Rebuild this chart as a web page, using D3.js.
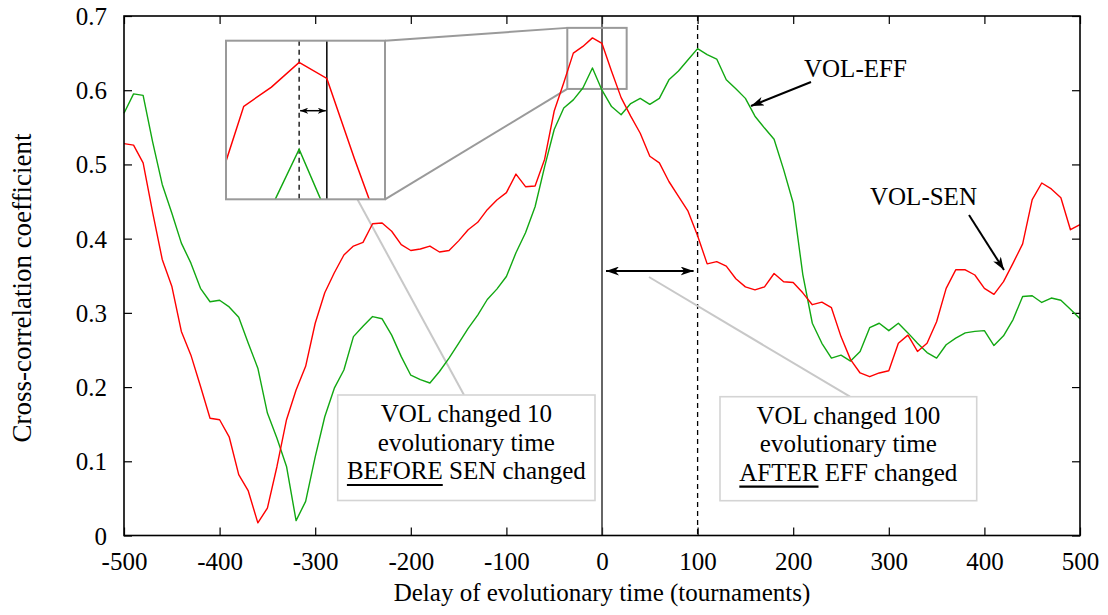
<!DOCTYPE html>
<html>
<head>
<meta charset="utf-8">
<script src="https://cdn.jsdelivr.net/npm/d3@7"></script>
<style>
  body { margin: 0; background: #fff; }
  svg { display: block; }
  text { font-family: "Liberation Serif", "Times New Roman", serif; fill: #000; }
</style>
</head>
<body>
<svg id="chart" width="1108" height="615"></svg>
<script>
// Delay between the two signals (tournaments)
const delays = [
  -500, -490, -480, -470, -460, -450, -440, -430, -420, -410,
  -400, -390, -380, -370, -360, -350, -340, -330, -320, -310,
  -300, -290, -280, -270, -260, -250, -240, -230, -220, -210,
  -200, -190, -180, -170, -160, -150, -140, -130, -120, -110,
  -100,  -90,  -80,  -70,  -60,  -50,  -40,  -30,  -20,  -10,
     0,   10,   20,   30,   40,   50,   60,   70,   80,   90,
   100,  110,  120,  130,  140,  150,  160,  170,  180,  190,
   200,  210,  220,  230,  240,  250,  260,  270,  280,  290,
   300,  310,  320,  330,  340,  350,  360,  370,  380,  390,
   400,  410,  420,  430,  440,  450,  460,  470,  480,  490,
   500
];

// Cross-correlation VOL vs SEN
const volSen = [
  0.528, 0.526, 0.502, 0.435, 0.372, 0.336, 0.275, 0.243, 0.201, 0.158,
  0.156, 0.133, 0.082, 0.060, 0.017, 0.037, 0.093, 0.156, 0.196, 0.228,
  0.286, 0.327, 0.354, 0.378, 0.390, 0.395, 0.420, 0.421, 0.410, 0.392,
  0.384, 0.386, 0.390, 0.382, 0.384, 0.397, 0.412, 0.422, 0.439, 0.452,
  0.462, 0.487, 0.470, 0.471, 0.507, 0.572, 0.610, 0.650, 0.659, 0.6705,
  0.663, 0.6255, 0.590, 0.565, 0.542, 0.511, 0.502, 0.477, 0.457, 0.437,
  0.404, 0.366, 0.369, 0.363, 0.346, 0.335, 0.331, 0.335, 0.353, 0.342,
  0.341, 0.327, 0.311, 0.3145, 0.307, 0.268, 0.237, 0.219, 0.214, 0.219,
  0.222, 0.259, 0.270, 0.248, 0.259, 0.288, 0.333, 0.358, 0.358, 0.351,
  0.333, 0.325, 0.342, 0.367, 0.393, 0.4525, 0.475, 0.467, 0.455, 0.412,
  0.419
];

// Cross-correlation VOL vs EFF
const volEff = [
  0.569, 0.595, 0.593, 0.530, 0.473, 0.4345, 0.394, 0.367, 0.333, 0.315,
  0.317, 0.308, 0.294, 0.259, 0.2255, 0.165, 0.131, 0.093, 0.020, 0.046,
  0.106, 0.160, 0.1985, 0.223, 0.268, 0.282, 0.295, 0.292, 0.270, 0.241,
  0.216, 0.210, 0.2055, 0.221, 0.239, 0.259, 0.279, 0.297, 0.318, 0.332,
  0.349, 0.381, 0.408, 0.443, 0.497, 0.547, 0.576, 0.587, 0.603, 0.630,
  0.600, 0.578, 0.567, 0.582, 0.589, 0.581, 0.589, 0.614, 0.626, 0.641,
  0.656, 0.648, 0.642, 0.614, 0.602, 0.589, 0.565, 0.549, 0.534, 0.493,
  0.448, 0.352, 0.286, 0.259, 0.239, 0.243, 0.235, 0.248, 0.280, 0.286,
  0.276, 0.286, 0.273, 0.259, 0.2465, 0.239, 0.257, 0.266, 0.273, 0.275,
  0.276, 0.256, 0.269, 0.291, 0.322, 0.323, 0.314, 0.320, 0.317, 0.305,
  0.292
];

const xTicks = [-500, -400, -300, -200, -100, 0, 100, 200, 300, 400, 500];
const xTickLabels = ["-500", "-400", "-300", "-200", "-100", "0", "100", "200", "300", "400", "500"];
const yTicks = [0, 0.1, 0.2, 0.3, 0.4, 0.5, 0.6, 0.7];
const yTickLabels = ["0", "0.1", "0.2", "0.3", "0.4", "0.5", "0.6", "0.7"];

// Reference lags marked on the chart
const senLag = -10;   // VOL-SEN peak
const effLag = 100;   // VOL-EFF peak

// Magnified window around the origin
const zoomWindowX = [-36.3, 25.8];
const zoomWindowY = [0.6017, 0.684];
const insetDomainX = [-36.4, 21];
const insetDomainY = [0.6067, 0.6806];

const RED = "#ff0000";
const GREEN = "#12a812";
const FONT = 25;

const svg = d3.select("#chart");
const L = 124, R = 1080, T = 16, B = 535.5;

const x = d3.scaleLinear().domain([-500, 500]).range([L, R]);
const y = d3.scaleLinear().domain([0, 0.7]).range([B, T]);

// Arrowhead markers
const defs = svg.append("defs");
function arrowMarker(id, len, half) {
  defs.append("marker")
    .attr("id", id)
    .attr("markerUnits", "userSpaceOnUse")
    .attr("viewBox", `${-len} ${-half} ${len} ${half * 2}`)
    .attr("refX", 0).attr("refY", 0)
    .attr("markerWidth", len).attr("markerHeight", half * 2)
    .attr("orient", "auto-start-reverse")
    .append("path")
    .attr("d", `M0,0 L${-len},${-half} L${-len * 0.72},0 L${-len},${half} Z`)
    .attr("fill", "#000");
}
arrowMarker("ah", 13, 4.5);
arrowMarker("ahSmall", 8, 3);

// Axes (ticks point inward, mirrored on top and right)
const gx = svg.append("g").attr("transform", `translate(0,${B})`)
  .call(d3.axisBottom(x).tickValues(xTicks).tickSizeInner(-8).tickSizeOuter(0).tickPadding(17)
    .tickFormat((d, i) => xTickLabels[i]));
const gxt = svg.append("g").attr("transform", `translate(0,${T})`)
  .call(d3.axisTop(x).tickValues(xTicks).tickSizeInner(-8).tickSizeOuter(0).tickFormat(""));
const gy = svg.append("g").attr("transform", `translate(${L},0)`)
  .call(d3.axisLeft(y).tickValues(yTicks).tickSizeInner(-8).tickSizeOuter(0).tickPadding(17)
    .tickFormat((d, i) => yTickLabels[i]));
const gyr = svg.append("g").attr("transform", `translate(${R},0)`)
  .call(d3.axisRight(y).tickValues(yTicks).tickSizeInner(-8).tickSizeOuter(0).tickFormat(""));
[gx, gxt, gy, gyr].forEach(g => {
  g.select(".domain").remove();
  g.selectAll(".tick line").attr("stroke", "#000").attr("stroke-width", 1.2);
  g.selectAll(".tick text").style("font-family", '"Liberation Serif", "Times New Roman", serif')
    .style("font-size", FONT + "px").attr("fill", "#000");
});
gy.selectAll(".tick text").attr("dy", "0.34em");

// Axis titles
svg.append("text").attr("x", (L + R) / 2).attr("y", 601).attr("text-anchor", "middle")
  .style("font-size", FONT + "px").text("Delay of evolutionary time (tournaments)");
svg.append("text").attr("transform", "translate(31,288) rotate(-90)").attr("text-anchor", "middle")
  .style("font-size", "27px").text("Cross-correlation coefficient");

// Marker lines at lag 0 and at the VOL-EFF peak
svg.append("line").attr("x1", x(0)).attr("x2", x(0)).attr("y1", T).attr("y2", B)
  .attr("stroke", "#333").attr("stroke-width", 1.5);
svg.append("line").attr("x1", x(effLag)).attr("x2", x(effLag)).attr("y1", T).attr("y2", B)
  .attr("stroke", "#000").attr("stroke-width", 1.3).attr("stroke-dasharray", "5,4");

// Callout leader lines
const calloutGray = "#c8c8c8";
svg.append("line").attr("x1", 313.3).attr("y1", 118.3).attr("x2", 464).attr("y2", 395)
  .attr("stroke", calloutGray).attr("stroke-width", 2);
svg.append("line").attr("x1", 649).attr("y1", 277).attr("x2", 850).attr("y2", 396.7)
  .attr("stroke", calloutGray).attr("stroke-width", 2);

// Inset frame geometry
const inset = { x0: 226, x1: 385, y0: 40.7, y1: 199.3 };
const zw = { x0: x(zoomWindowX[0]), x1: x(zoomWindowX[1]), y0: y(zoomWindowY[1]), y1: y(zoomWindowY[0]) };
const zoomGray = "#9a9a9a";
svg.append("line").attr("x1", inset.x1).attr("y1", inset.y0).attr("x2", zw.x0).attr("y2", zw.y0)
  .attr("stroke", zoomGray).attr("stroke-width", 2);
svg.append("line").attr("x1", inset.x1).attr("y1", inset.y1).attr("x2", zw.x0).attr("y2", zw.y1)
  .attr("stroke", zoomGray).attr("stroke-width", 2);
svg.append("rect").attr("x", zw.x0).attr("y", zw.y0).attr("width", zw.x1 - zw.x0).attr("height", zw.y1 - zw.y0)
  .attr("fill", "none").attr("stroke", zoomGray).attr("stroke-width", 2);

// Series
const mainLine = d3.line().x((d, i) => x(delays[i])).y(d => y(d));
svg.append("path").datum(volEff).attr("d", mainLine).attr("fill", "none")
  .attr("stroke", GREEN).attr("stroke-width", 1.4).attr("stroke-linejoin", "round");
svg.append("path").datum(volSen).attr("d", mainLine).attr("fill", "none")
  .attr("stroke", RED).attr("stroke-width", 1.4).attr("stroke-linejoin", "round");

// Frame
svg.append("rect").attr("x", L).attr("y", T).attr("width", R - L).attr("height", B - T)
  .attr("fill", "none").attr("stroke", "#000").attr("stroke-width", 1.6);

// Magnified inset
const xi = d3.scaleLinear().domain(insetDomainX).range([inset.x0, inset.x1]);
const yi = d3.scaleLinear().domain(insetDomainY).range([inset.y1, inset.y0]);
defs.append("clipPath").attr("id", "insetClip").append("rect")
  .attr("x", inset.x0).attr("y", inset.y0).attr("width", inset.x1 - inset.x0).attr("height", inset.y1 - inset.y0);
svg.append("rect").attr("x", inset.x0).attr("y", inset.y0).attr("width", inset.x1 - inset.x0)
  .attr("height", inset.y1 - inset.y0).attr("fill", "#fff");
const gi = svg.append("g").attr("clip-path", "url(#insetClip)");
const insetLine = d3.line().x((d, i) => xi(delays[i])).y(d => yi(d));
gi.append("line").attr("x1", xi(senLag)).attr("x2", xi(senLag)).attr("y1", inset.y0).attr("y2", inset.y1)
  .attr("stroke", "#000").attr("stroke-width", 1.3).attr("stroke-dasharray", "5,4");
gi.append("line").attr("x1", xi(0)).attr("x2", xi(0)).attr("y1", inset.y0).attr("y2", inset.y1)
  .attr("stroke", "#000").attr("stroke-width", 1.5);
gi.append("path").datum(volEff).attr("d", insetLine).attr("fill", "none")
  .attr("stroke", GREEN).attr("stroke-width", 1.5);
gi.append("path").datum(volSen).attr("d", insetLine).attr("fill", "none")
  .attr("stroke", RED).attr("stroke-width", 1.5);
svg.append("line").attr("x1", xi(senLag) + 1).attr("x2", xi(0) - 1).attr("y1", 110.7).attr("y2", 110.7)
  .attr("stroke", "#000").attr("stroke-width", 1.5)
  .attr("marker-start", "url(#ahSmall)").attr("marker-end", "url(#ahSmall)");
svg.append("rect").attr("x", inset.x0).attr("y", inset.y0).attr("width", inset.x1 - inset.x0)
  .attr("height", inset.y1 - inset.y0).attr("fill", "none").attr("stroke", zoomGray).attr("stroke-width", 2);

// Lag arrow between 0 and the VOL-EFF peak
svg.append("line").attr("x1", x(0) + 4).attr("x2", x(effLag) - 4).attr("y1", 271).attr("y2", 271)
  .attr("stroke", "#000").attr("stroke-width", 2)
  .attr("marker-start", "url(#ah)").attr("marker-end", "url(#ah)");

// Series labels with pointers
svg.append("text").attr("x", 804).attr("y", 77).style("font-size", FONT + "px").text("VOL-EFF");
svg.append("line").attr("x1", 811).attr("y1", 82).attr("x2", 751).attr("y2", 106)
  .attr("stroke", "#000").attr("stroke-width", 2).attr("marker-end", "url(#ah)");
svg.append("text").attr("x", 870).attr("y", 205).style("font-size", FONT + "px").text("VOL-SEN");
svg.append("line").attr("x1", 969).attr("y1", 215).attr("x2", 1004).attr("y2", 270)
  .attr("stroke", "#000").attr("stroke-width", 2).attr("marker-end", "url(#ah)");

// Explanation boxes
function noteBox(x0, y0, x1, y1, lines) {
  svg.append("rect").attr("x", x0).attr("y", y0).attr("width", x1 - x0).attr("height", y1 - y0)
    .attr("fill", "#fff").attr("stroke", "#d4d4d4").attr("stroke-width", 1.6);
  const cx = (x0 + x1) / 2;
  lines.forEach((ln, i) => {
    const t = svg.append("text").attr("x", cx).attr("y", y0 + 27 + i * 28.5)
      .attr("text-anchor", "middle").style("font-size", FONT + "px");
    const first = t.append("tspan").text(ln[0]);
    if (ln[1] !== undefined) t.append("tspan").text(ln[1]);
    if (ln.underline) {
      const node = t.node();
      const start = node.getStartPositionOfChar(0).x;
      const w = first.node().getComputedTextLength();
      svg.append("line").attr("x1", start).attr("x2", start + w)
        .attr("y1", y0 + 27 + i * 28.5 + 6).attr("y2", y0 + 27 + i * 28.5 + 6)
        .attr("stroke", "#000").attr("stroke-width", 2.2);
    }
  });
}
const l3a = ["BEFORE", " SEN changed"]; l3a.underline = true;
const l3b = ["AFTER", " EFF changed"]; l3b.underline = true;
noteBox(337.7, 395, 595, 500.5, [["VOL changed 10"], ["evolutionary time"], l3a]);
noteBox(720, 396.7, 976.7, 500.7, [["VOL changed 100"], ["evolutionary time"], l3b]);
</script>
</body>
</html>
